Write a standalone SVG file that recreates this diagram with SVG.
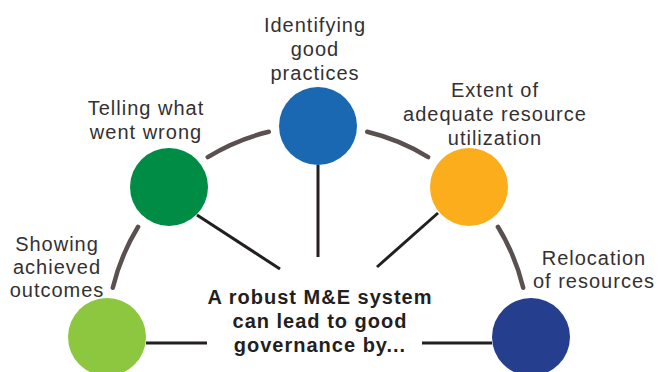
<svg xmlns="http://www.w3.org/2000/svg" width="660" height="372" viewBox="0 0 660 372">
<style>
.lbl{font-family:"Liberation Sans",Arial,sans-serif;font-size:20px;font-weight:400;letter-spacing:1px;fill:#333132;text-anchor:middle}
.ctr{font-family:"Liberation Sans",Arial,sans-serif;font-size:20px;font-weight:700;letter-spacing:1px;fill:#231f20;text-anchor:middle}
.arc{fill:none;stroke:#5a5050;stroke-width:4.5;stroke-linecap:round}
.spoke{stroke:#231f20;stroke-width:3;fill:none}
</style>
<rect width="660" height="372" fill="#ffffff"/>
<g id="connectors">
<path class="arc" d="M112.8,287.8 A211,211 0 0 1 138.1,226.8"/>
<path class="arc" d="M207.8,157.1 A211,211 0 0 1 268.8,131.8"/>
<path class="arc" d="M367.2,131.8 A211,211 0 0 1 428.2,157.1"/>
<path class="arc" d="M497.9,226.8 A211,211 0 0 1 523.2,287.8"/>
<line class="spoke" x1="318" y1="165" x2="318" y2="257"/>
<line class="spoke" x1="197" y1="215" x2="280" y2="269"/>
<line class="spoke" x1="438" y1="213" x2="377" y2="267"/>
<line class="spoke" x1="146" y1="343" x2="207" y2="343"/>
<line class="spoke" x1="422" y1="343" x2="492" y2="343"/>
</g>
<g id="center">
<text class="ctr" x="320" y="304"><tspan x="320" y="304">A robust M&amp;E system</tspan><tspan x="320" y="328">can lead to good</tspan><tspan x="320" y="352">governance by...</tspan></text>
</g>
<g id="node-outcomes">
<circle cx="107" cy="337" r="39" fill="#8dc63f"/>
<text class="lbl" x="57" y="251"><tspan x="57" y="251">Showing</tspan><tspan x="57" y="274">achieved</tspan><tspan x="57" y="297">outcomes</tspan></text>
</g>
<g id="node-wrong">
<circle cx="169" cy="187" r="39" fill="#008c44"/>
<text class="lbl" x="146" y="115"><tspan x="146" y="115">Telling what</tspan><tspan x="146" y="139">went wrong</tspan></text>
</g>
<g id="node-practices">
<circle cx="318" cy="126" r="39" fill="#1a68b2"/>
<text class="lbl" x="315" y="32"><tspan x="315" y="32">Identifying</tspan><tspan x="315" y="56">good</tspan><tspan x="315" y="80">practices</tspan></text>
</g>
<g id="node-utilization">
<circle cx="469" cy="187" r="39" fill="#fbad1b"/>
<text class="lbl" x="495" y="97"><tspan x="495" y="97">Extent of</tspan><tspan x="495" y="121">adequate resource</tspan><tspan x="495" y="144.5">utilization</tspan></text>
</g>
<g id="node-relocation">
<circle cx="531" cy="337" r="39" fill="#253e8e"/>
<text class="lbl" x="594" y="264.5"><tspan x="594" y="264.5">Relocation</tspan><tspan x="594" y="287.5">of resources</tspan></text>
</g>
</svg>
